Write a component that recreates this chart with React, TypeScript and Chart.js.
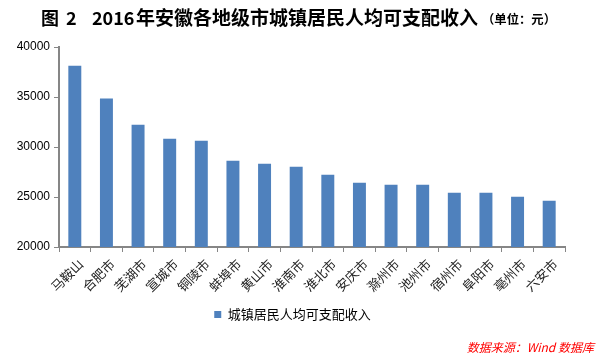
import React, { useEffect, useRef } from "react";
import { Chart, registerables } from "chart.js";

Chart.register(...registerables);

const categories = ["马鞍山", "合肥市", "芜湖市", "宣城市", "铜陵市", "蚌埠市", "黄山市", "淮南市", "淮北市", "安庆市", "滁州市", "池州市", "宿州市", "阜阳市", "亳州市", "六安市"];
const income = [38130, 34840, 32230, 30830, 30630, 28630, 28330, 28030, 27230, 26430, 26230, 26230, 25430, 25430, 25030, 24630];
const seriesName = "城镇居民人均可支配收入";
const titleFig = "图";
const titleNum = "2";
const titleYear = "2016";
const titleMain = "年安徽各地级市城镇居民人均可支配收入";
const titleUnit = "（单位：元）";
const sourceText = "数据来源：Wind 数据库";
const yMin = 20000;
const yMax = 40000;
const yStep = 5000;

const CJK = '"Noto Sans CJK SC", "Noto Sans", sans-serif';

function fitText(ctx: any, text: string, weight: string, x0: number, x1: number, y: number) {
  ctx.font = `${weight} 20px ${CJK}`;
  const w20 = ctx.measureText(text).width;
  const size = (20 * (x1 - x0)) / w20;
  ctx.font = `${weight} ${size}px ${CJK}`;
  ctx.fillText(text, x0, y);
}

const decorPlugin = {
  id: "decor",
  afterDraw(chart: any) {
    const ctx = chart.ctx;
    ctx.save();
    ctx.fillStyle = "#000";
    ctx.textBaseline = "middle";
    ctx.textAlign = "left";
    ctx.font = `bold 18px ${CJK}`;
    ctx.fillText(titleFig, 41, 18);
    ctx.fillText(titleNum, 66, 18);
    ctx.fillText(titleYear, 92, 18);
    fitText(ctx, titleMain, "bold", 136, 478, 18);
    fitText(ctx, titleUnit, "bold", 482, 556, 19);
    ctx.font = `italic 12px ${CJK}`;
    ctx.fillStyle = "#FF0000";
    ctx.textAlign = "right";
    ctx.fillText(sourceText, 594, 347);
    ctx.restore();
  },
};

export default function App() {
  const ref = useRef<HTMLCanvasElement>(null);
  useEffect(() => {
    if (!ref.current) return;
    const chart = new Chart(ref.current, {
      type: "bar",
      data: {
        labels: categories,
        datasets: [
          {
            label: seriesName,
            data: income,
            backgroundColor: "#4F81BD",
            borderWidth: 0,
            barPercentage: 0.41,
            categoryPercentage: 1,
          },
        ],
      },
      options: {
        responsive: false,
        animation: false,
        layout: { padding: { top: 47, left: 10, right: 27, bottom: 26 } },
        plugins: {
          title: { display: false },
          tooltip: { enabled: false },
          legend: {
            display: true,
            position: "bottom",
            labels: {
              boxWidth: 7,
              boxHeight: 7,
              padding: 10,
              color: "#000",
              font: { family: CJK, size: 13 },
            },
          },
        },
        scales: {
          x: {
            grid: {
              display: true,
              drawOnChartArea: false,
              drawTicks: true,
              tickLength: 5,
              color: "#868686",
              offset: true,
            },
            border: { display: true, color: "#868686", width: 2 },
            ticks: {
              minRotation: 45,
              maxRotation: 45,
              autoSkip: false,
              color: "#222",
              padding: 4,
              labelOffset: 6,
              font: { family: CJK, size: 13 },
            },
            afterFit(s: any) {
              s.height = 51;
            },
          },
          y: {
            min: yMin,
            max: yMax,
            grid: {
              display: true,
              drawOnChartArea: false,
              drawTicks: true,
              tickLength: 5,
              color: "#868686",
            },
            border: { display: true, color: "#868686", width: 2 },
            ticks: {
              stepSize: yStep,
              color: "#000",
              padding: 4,
              callback: (v: any) => String(v),
              font: { family: '"Liberation Sans", Arial, sans-serif', size: 12 },
            },
            afterFit(s: any) {
              s.width = 49;
            },
          },
          y2: {
            position: "right",
            min: 0,
            max: 1,
            grid: { display: false, drawTicks: false },
            border: { display: false },
            ticks: { display: false },
            afterFit(s: any) {
              s.width = 10;
            },
          },
        },
      },
      plugins: [decorPlugin],
    });
    return () => chart.destroy();
  }, []);
  return (
    <div style={{ position: "absolute", left: 0, top: 0, width: 602, height: 357, background: "#fff" }}>
      <canvas ref={ref} width={602} height={357} style={{ display: "block", width: 602, height: 357 }} />
    </div>
  );
}
